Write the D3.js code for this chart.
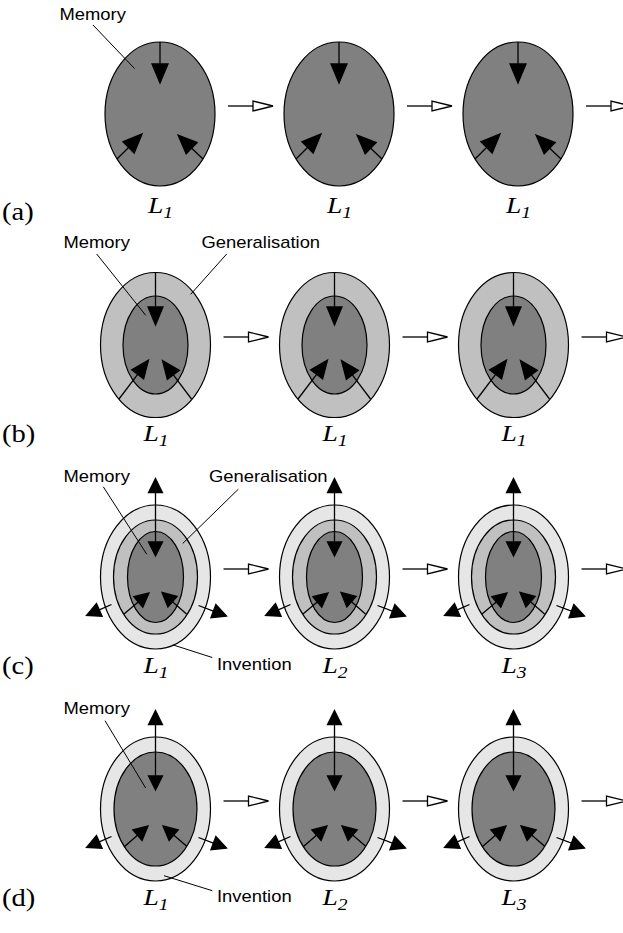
<!DOCTYPE html>
<meta charset="utf-8">
<style>
  body { margin: 0; background: #fff; }
</style>
<script src="https://d3js.org/d3.v7.min.js"></script>
<div id="my_dataviz"></div>
<script>

// ---- data ----
var rows = ["a", "b", "c", "d"];
var rowLabels = ["(a)", "(b)", "(c)", "(d)"];
var levels = [0, 1, 2];
var levelSubs = [["1", "1", "1"], ["1", "1", "1"], ["1", "2", "3"], ["1", "2", "3"]];
// layers of each ellipse, outer to inner
var rowLayers = [
  ["Memory"],
  ["Generalisation", "Memory"],
  ["Invention", "Generalisation", "Memory"],
  ["Invention", "Memory"]
];
// which layers get a pointer label (first column only)
var rowCallouts = [
  ["Memory"],
  ["Memory", "Generalisation"],
  ["Memory", "Generalisation", "Invention"],
  ["Memory", "Invention"]
];
var hasOutward = [false, false, true, true];

// ---- styles / geometry ----
var fills = {Memory: "#808080", Generalisation: "#c0c0c0", Invention: "#e6e6e6"};
var radii = {
  a: {Memory: [55, 72]},
  b: {Generalisation: [55, 72.5], Memory: [32.5, 49]},
  c: {Invention: [55, 72], Generalisation: [42, 57], Memory: [28, 45.5]},
  d: {Invention: [55, 72], Memory: [41.5, 57]}
};
// inward arrows: [start, tip] relative to ellipse centre
var inward = {
  a: [[[0, -72], [0, -31]], [[-43, 45], [-18, 20]], [[43, 45], [18, 21]]],
  b: [[[0, -72], [0, -20]], [[-36.5, 54], [-7, 15]], [[36, 54], [7, 15.5]]],
  c: [[[0, -72], [0, -21]], [[-31.5, 37], [-6.5, 16]], [[31, 37], [6.5, 15.5]]],
  d: [[[0, -72], [0, -19]], [[-31.5, 38], [-7.5, 17]], [[31.5, 37.5], [7.5, 17]]]
};
var outward = [[[0, -72], [0, -98.5]], [[-44, 27.5], [-69, 38.5]], [[43, 28.5], [71, 39]]];
var head = {a: [19, 8], b: [18, 7.5], c: [14, 7], d: [14, 7]};
var callout = {
  a: {Memory: {t: [-100.5, -94], l: [[-67, -89], [-25.5, -45.5]]}},
  b: {Memory: {t: [-92, -97], l: [[-58.8, -91], [-9.8, -29.7]]},
      Generalisation: {t: [46, -97], l: [[71.2, -91], [35.2, -50.7]]}},
  c: {Memory: {t: [-92, -95], l: [[-52.2, -90.2], [-8.8, -22.8]]},
      Generalisation: {t: [53.5, -95], l: [[82.8, -87.8], [27.2, -33.5]]},
      Invention: {t: [61.5, 92.5], l: [[17.2, 67.8], [56.8, 80.5]]}},
  d: {Memory: {t: [-92, -95.5], l: [[-50.5, -88.3], [-9.8, -21]]},
      Invention: {t: [61.5, 93], l: [[8.5, 66.7], [56.8, 81.7]]}}
};
var rowShift = {a: [4.5, 0], b: [0, 0], c: [0, 0], d: [0, 0]};
var stretch = 1.15;

var width = 623, height = 933;

var svg = d3.select("#my_dataviz")
  .append("svg")
    .attr("width", width)
    .attr("height", height);

// centres
var y = d3.scalePoint().domain(rows).range([114, 810]);
var x = d3.scalePoint().domain(levels).range([155.5, 513.5]);

function arrowHead(g, s, t, len, w, fill) {
  var dx = t[0] - s[0], dy = t[1] - s[1], d = Math.sqrt(dx * dx + dy * dy);
  var ux = dx / d, uy = dy / d;
  var bx = t[0] - ux * len, by = t[1] - uy * len;
  var nx = -uy, ny = ux;
  g.append("line")
    .attr("x1", s[0]).attr("y1", s[1]).attr("x2", bx).attr("y2", by)
    .attr("stroke", "#000").attr("stroke-width", 1.3);
  g.append("path")
    .attr("d", "M" + t[0] + "," + t[1] + "L" + (bx + nx * w) + "," + (by + ny * w) +
               "L" + (bx - nx * w) + "," + (by - ny * w) + "Z")
    .attr("fill", fill).attr("stroke", "#000").attr("stroke-width", 1.3)
    .attr("stroke-linejoin", "miter");
}

function sansText(g, px, py, str) {
  g.append("text")
    .attr("transform", "translate(" + px + "," + py + ") scale(" + stretch + ",1)")
    .style("font-family", "'Liberation Sans', Arial, Helvetica, sans-serif")
    .style("font-size", "16px")
    .attr("fill", "#000")
    .text(str);
}

rows.forEach(function(r, ri) {
  var cy = y(r) + rowShift[r][1] + (r === "a" ? 0 : -1);
  var row = svg.append("g").attr("class", "row-" + r);

  levels.forEach(function(lv) {
    var cx = x(lv) + rowShift[r][0];
    var g = row.append("g").attr("transform", "translate(" + cx + "," + cy + ")");

    // rings, outer to inner
    rowLayers[ri].forEach(function(name) {
      var rr = radii[r][name];
      g.append("ellipse")
        .attr("cx", 0).attr("cy", 0)
        .attr("rx", rr[0]).attr("ry", rr[1])
        .attr("fill", fills[name])
        .attr("stroke", "#000").attr("stroke-width", 1.2);
    });

    // outward (invention) arrows
    if (hasOutward[ri]) {
      outward.forEach(function(a) { arrowHead(g, a[0], a[1], 14, 7, "#000"); });
    }
    // inward arrows
    inward[r].forEach(function(a) { arrowHead(g, a[0], a[1], head[r][0], head[r][1], "#000"); });

    // hollow arrow to the next step
    arrowHead(g, [68, -8], [113, -8], 20, 5, "#fff");

    // level label L_n
    var lt = g.append("text")
      .attr("transform", "translate(-12," + (r === "a" ? 99 : 96) + ") scale(" + stretch + ",1)")
      .style("font-family", "'Liberation Serif', 'Times New Roman', serif")
      .style("font-style", "italic")
      .style("font-size", "24px")
      .attr("fill", "#000");
    lt.append("tspan").text("L");
    lt.append("tspan").attr("dy", 5).style("font-size", "17px").text(levelSubs[ri][lv]);
  });

  // callouts on the first ellipse
  var c0x = x(0) + rowShift[r][0];
  rowCallouts[ri].forEach(function(name) {
    var c = callout[r][name];
    row.append("line")
      .attr("x1", c0x + c.l[0][0]).attr("y1", cy + c.l[0][1])
      .attr("x2", c0x + c.l[1][0]).attr("y2", cy + c.l[1][1])
      .attr("stroke", "#000").attr("stroke-width", 1);
    sansText(row, c0x + c.t[0], cy + c.t[1], name);
  });

  // row label
  row.append("text")
    .attr("transform", "translate(2," + (cy + (r === "a" ? 106 : 97)) + ") scale(1.1,1)")
    .style("font-family", "'Liberation Serif', 'Times New Roman', serif")
    .style("font-size", "26px")
    .attr("fill", "#000")
    .text(rowLabels[ri]);
});

</script>
